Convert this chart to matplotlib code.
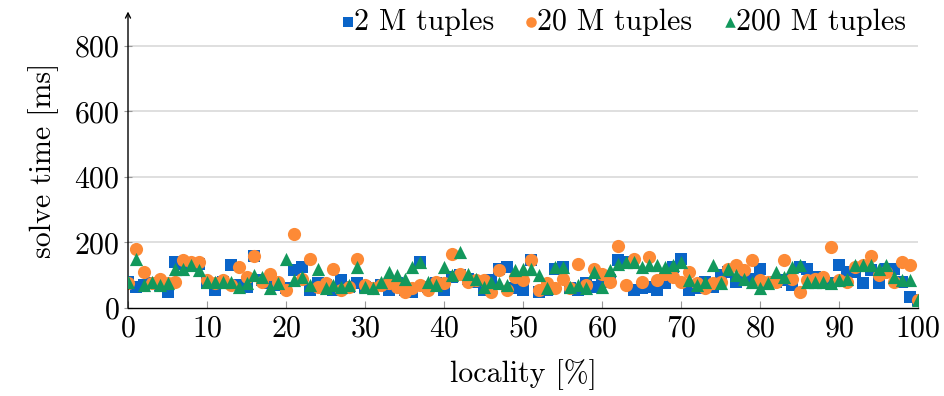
import matplotlib
matplotlib.use("Agg")
import matplotlib.pyplot as plt
import numpy as np

plt.rcParams['font.family'] = ['serif']
plt.rcParams['font.serif'] = ['cmr10', 'DejaVu Serif']
plt.rcParams['mathtext.fontset'] = 'cm'
plt.rcParams['axes.formatter.use_mathtext'] = True

locality = list(range(0, 101))

tuples_2m = [78, 65, 70, 75, 70, 50, 140, 135, 135, 135,
             75, 55, 80, 130, 70, 65, 160, 85, 75, 70,
             60, 115, 125, 55, 75, 70, 55, 85, 65, 75,
             65, 60, 70, 55, 75, 55, 50, 140, 65, 75,
             55, 95, 100, 90, 80, 55, 85, 120, 125, 60,
             55, 145, 50, 55, 120, 125, 60, 55, 75, 65,
             80, 85, 145, 140, 55, 60, 65, 55, 75, 125,
             150, 55, 60, 80, 65, 100, 110, 80, 85, 90,
             120, 75, 80, 85, 70, 125, 120, 95, 80, 75,
             130, 110, 110, 75, 115, 75, 120, 120, 80, 35, 25]

tuples_20m = [75, 180, 110, 75, 90, 75, 80, 145, 140, 140,
              85, 75, 85, 70, 125, 95, 160, 80, 105, 80,
              55, 225, 90, 150, 65, 75, 120, 55, 65, 150,
              70, 60, 70, 75, 65, 50, 60, 70, 55, 80,
              75, 165, 105, 80, 85, 85, 50, 115, 55, 95,
              85, 145, 55, 75, 60, 90, 60, 135, 70, 120,
              105, 80, 190, 70, 150, 80, 155, 85, 105, 95,
              80, 110, 75, 60, 75, 80, 120, 130, 115, 145,
              85, 80, 80, 145, 90, 50, 85, 90, 95, 185,
              85, 80, 125, 130, 160, 100, 110, 80, 140, 130, 25]

tuples_200m = [80, 150, 70, 80, 70, 75, 120, 120, 130, 115,
               80, 80, 80, 80, 65, 75, 100, 95, 60, 75,
               150, 85, 95, 70, 120, 60, 70, 65, 70, 125,
               65, 60, 80, 110, 100, 90, 125, 140, 80, 70,
               125, 100, 170, 105, 90, 65, 80, 75, 70, 115,
               120, 120, 100, 60, 125, 125, 65, 70, 60, 110,
               65, 115, 135, 140, 140, 125, 130, 130, 125, 130,
               140, 85, 70, 80, 130, 75, 120, 100, 90, 80,
               60, 75, 110, 95, 125, 130, 80, 80, 80, 75,
               85, 90, 130, 130, 130, 120, 130, 95, 85, 85, 25]

x_ticks = [0, 10, 20, 30, 40, 50, 60, 70, 80, 90, 100]
y_ticks = [0, 200, 400, 600, 800]

blue = '#0a64c8'
orange = '#fd8a36'
green = '#12985c'

FS = 21.5

fig = plt.figure(figsize=(9.45, 3.96), dpi=100)
ax = fig.add_axes([128/945, 88/396, (918-128)/945, (308-13)/396])

ax.set_xlim(0, 100)
ax.set_ylim(0, 900)

for y in y_ticks[1:]:
    ax.axhline(y, color='#d9d9d9', lw=1.2, zorder=0)

ax.scatter(locality, tuples_2m, marker='s', s=75, color=blue, linewidths=0, zorder=2, label='2 M tuples')
ax.scatter(locality, tuples_20m, marker='o', s=90, color=orange, linewidths=0, zorder=3, label='20 M tuples')
ax.scatter(locality, tuples_200m, marker='^', s=90, color=green, linewidths=0, zorder=4, label='200 M tuples')

for sp in ['top', 'right']:
    ax.spines[sp].set_visible(False)
ax.spines['left'].set_visible(False)
ax.spines['bottom'].set_linewidth(1.0)
ax.annotate('', xy=(0, 1.005), xytext=(0, 0), xycoords='axes fraction',
            arrowprops=dict(arrowstyle='->', lw=1.0, color='black', shrinkA=0, shrinkB=0,
                            mutation_scale=9))

ax.set_xticks(x_ticks)
ax.set_yticks(y_ticks)
ax.tick_params(axis='both', labelsize=FS, color='#999999', direction='inout', length=6, width=0.8)
ax.tick_params(axis='x', direction='in', length=5, pad=5)
ax.tick_params(axis='y', pad=3)

ax.set_xlabel('locality [%]', fontsize=FS, labelpad=12)
ax.set_ylabel('solve time [ms]', fontsize=FS, labelpad=11)

leg = ax.legend(loc='upper right', bbox_to_anchor=(0.99, 1.03), ncol=3, frameon=True,
                fontsize=FS, markerscale=0.8, handletextpad=-0.3, columnspacing=0.75,
                borderpad=0.15, handlelength=1.0, borderaxespad=0.0)
leg.get_frame().set_edgecolor('white')
leg.get_frame().set_facecolor('white')
leg.get_frame().set_alpha(1.0)
leg.set_zorder(10)

fig.savefig('out.png', dpi=100)
